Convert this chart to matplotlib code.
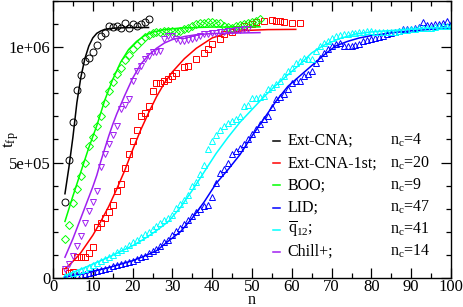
import matplotlib
matplotlib.use("Agg")
import matplotlib.pyplot as plt
from matplotlib import rcParams
from matplotlib.ticker import MultipleLocator

rcParams['font.family'] = 'Liberation Serif'
rcParams['mathtext.fontset'] = 'custom'
rcParams['mathtext.rm'] = 'Liberation Serif'
rcParams['mathtext.it'] = 'Liberation Serif:italic'

# --- data (t_fp in units of 1e6) ---
n_cna = list(range(3, 25))
t_cna = [0.33, 0.51, 0.675, 0.814, 0.878, 0.939, 0.955, 0.977, 1.010, 1.047, 1.061,
         1.090, 1.088, 1.092, 1.083, 1.104, 1.083, 1.100, 1.093, 1.100, 1.110, 1.120]
fit_n_cna = [3, 4, 5, 6, 7, 8, 9, 10, 11, 12, 13, 14, 16, 18, 20, 24]
fit_t_cna = [0.365, 0.48, 0.61, 0.76, 0.87, 0.95, 1.005, 1.04, 1.06, 1.07, 1.077, 1.08,
             1.083, 1.084, 1.085, 1.085]

n_1st = [3, 4, 5, 6, 7, 8, 9, 10, 11, 12, 13, 14, 15, 16, 17, 18, 19, 20, 21, 22, 23, 24,
         25, 26, 27, 28, 29, 30, 31, 33, 34, 36, 38, 39, 40, 42, 43, 45, 46, 48, 50, 51,
         53, 55, 56, 57, 58, 60, 62]
t_1st = [0.03, 0.022, 0.025, 0.09, 0.09, 0.09, 0.107, 0.135, 0.22, 0.24, 0.26, 0.285,
         0.317, 0.375, 0.405, 0.475, 0.537, 0.593, 0.64, 0.70, 0.716, 0.745, 0.81, 0.843,
         0.846, 0.853, 0.86, 0.875, 0.89, 0.912, 0.919, 0.948, 0.975, 0.991, 1.013, 1.035,
         1.057, 1.067, 1.078, 1.093, 1.10, 1.107, 1.115, 1.119, 1.115, 1.112, 1.107, 1.104,
         1.105]
fit_n_1st = [3, 4, 5, 6, 7, 8, 9, 10, 12, 14, 16, 18, 20, 22, 24, 26, 28, 30, 33, 36, 40,
             44, 48, 54, 61]
fit_t_1st = [0.04, 0.055, 0.072, 0.09, 0.11, 0.135, 0.16, 0.185, 0.245, 0.31, 0.385,
             0.465, 0.555, 0.64, 0.715, 0.785, 0.845, 0.893, 0.95, 0.995, 1.04, 1.062,
             1.072, 1.076, 1.077]

n_boo = list(range(3, 53))
t_boo = [0.168, 0.23, 0.325, 0.385, 0.44, 0.50, 0.57, 0.61, 0.658, 0.70, 0.76, 0.81,
         0.847, 0.883, 0.91, 0.945, 0.965, 0.991, 1.009, 1.027, 1.042, 1.052, 1.061,
         1.065, 1.067, 1.068, 1.07, 1.068, 1.065, 1.07, 1.078, 1.085, 1.093, 1.10, 1.105,
         1.105, 1.107, 1.107, 1.105, 1.105, 1.09, 1.088, 1.085, 1.09, 1.095, 1.10, 1.105,
         1.11, 1.115, 1.12]
fit_n_boo = [3, 5, 7, 9, 11, 13, 15, 17, 19, 21, 23, 25, 28, 32, 40, 52]
fit_t_boo = [0.245, 0.355, 0.46, 0.565, 0.66, 0.77, 0.86, 0.935, 0.99, 1.025, 1.05,
             1.065, 1.076, 1.083, 1.087, 1.088]

n_lid = list(range(3, 101))
t_lid = [0.005, 0.008, 0.01, 0.012, 0.015, 0.018, 0.022, 0.027, 0.03, 0.035, 0.04,
         0.045, 0.05, 0.055, 0.06, 0.066, 0.07, 0.075, 0.082, 0.09, 0.097, 0.107, 0.115,
         0.125, 0.14, 0.155, 0.165, 0.185, 0.205, 0.215, 0.235, 0.25, 0.27, 0.285, 0.30,
         0.31, 0.317, 0.353, 0.412, 0.455, 0.47, 0.50, 0.535, 0.55, 0.565, 0.58, 0.60,
         0.622, 0.645, 0.665, 0.69, 0.701, 0.74, 0.774, 0.785, 0.796, 0.817, 0.846, 0.853,
         0.853, 0.875, 0.885, 0.897, 0.93, 0.955, 0.975, 0.99, 1.006, 1.015, 1.02, 1.006,
         1.006, 1.006, 1.01, 1.015, 1.027, 1.03, 1.035, 1.04, 1.042, 1.05, 1.055, 1.06,
         1.065, 1.07, 1.078, 1.078, 1.08, 1.083, 1.086, 1.107, 1.095, 1.095, 1.10, 1.10,
         1.104, 1.114, 1.10]
fit_n_lid = [3, 5, 8, 11, 14, 17, 20, 23, 26, 29, 32, 35, 38, 41, 44, 47, 50, 53, 56,
             59, 62, 65, 68, 71, 74, 77, 80, 85, 90, 95, 100]
fit_t_lid = [0.004, 0.01, 0.02, 0.033, 0.045, 0.06, 0.075, 0.095, 0.118, 0.16, 0.20,
             0.26, 0.33, 0.41, 0.47, 0.535, 0.615, 0.69, 0.765, 0.83, 0.875, 0.92, 0.965,
             1.005, 1.025, 1.04, 1.05, 1.062, 1.071, 1.077, 1.082]

n_q12 = list(range(3, 101))
t_q12 = [0.01, 0.015, 0.02, 0.027, 0.034, 0.041, 0.049, 0.057, 0.065, 0.074, 0.083,
         0.092, 0.101, 0.111, 0.121, 0.132, 0.143, 0.154, 0.165, 0.177, 0.189, 0.20,
         0.214, 0.227, 0.24, 0.25, 0.262, 0.274, 0.303, 0.32, 0.339, 0.36, 0.40, 0.415,
         0.45, 0.491, 0.557, 0.593, 0.62, 0.643, 0.658, 0.67, 0.68, 0.687, 0.701, 0.745,
         0.75, 0.781, 0.781, 0.785, 0.79, 0.817, 0.828, 0.839, 0.853, 0.875, 0.897, 0.91,
         0.933, 0.94, 0.955, 0.95, 0.948, 0.984, 1.006, 1.02, 1.027, 1.04, 1.05, 1.052,
         1.055, 1.058, 1.06, 1.062, 1.065, 1.067, 1.068, 1.068, 1.067, 1.065, 1.064, 1.064,
         1.064, 1.067, 1.07, 1.073, 1.075, 1.078, 1.08, 1.082, 1.082, 1.085, 1.085, 1.088,
         1.09, 1.093, 1.093, 1.09]
fit_n_q12 = [3, 5, 8, 11, 14, 17, 20, 23, 26, 29, 32, 35, 38, 41, 44, 47, 50, 53, 56,
             59, 62, 65, 68, 72, 76, 80, 85, 90, 95, 100]
fit_t_q12 = [0.01, 0.025, 0.045, 0.068, 0.09, 0.115, 0.14, 0.17, 0.205, 0.245, 0.305,
             0.38, 0.46, 0.54, 0.61, 0.675, 0.73, 0.785, 0.835, 0.88, 0.925, 0.975, 1.008,
             1.037, 1.057, 1.066, 1.072, 1.078, 1.083, 1.086]

n_chill = list(range(3, 50))
t_chill = [0.04, 0.06, 0.095, 0.14, 0.18, 0.24, 0.29, 0.33, 0.375, 0.48, 0.535, 0.58,
           0.62, 0.66, 0.73, 0.75, 0.775, 0.854, 0.897, 0.919, 0.948, 0.962, 0.977, 0.98,
           0.985, 1.035, 1.05, 1.05, 1.035, 1.028, 1.028, 1.03, 1.035, 1.04, 1.05, 1.057,
           1.057, 1.06, 1.062, 1.065, 1.067, 1.07, 1.072, 1.075, 1.076, 1.078, 1.08]
fit_n_chill = [3, 4, 5, 6, 7, 8, 9, 10, 11, 12, 13, 14, 15, 16, 18, 20, 22, 24, 26, 28,
               30, 33, 36, 40, 52]
fit_t_chill = [0.09, 0.13, 0.17, 0.215, 0.26, 0.305, 0.35, 0.395, 0.445, 0.505, 0.56,
               0.615, 0.665, 0.71, 0.79, 0.865, 0.925, 0.965, 0.995, 1.018, 1.033, 1.046,
               1.054, 1.059, 1.063]

names = ['Ext-CNA;', 'Ext-CNA-1st;', 'BOO;', 'LID;', r'$\overline{\mathrm{q}}_{12}$;', 'Chill+;']
nc_values = [4, 20, 9, 47, 41, 14]
colors = ['black', 'red', '#00ff00', '#0000ff', '#00ffff', '#a020f0']
markers = ['o', 's', 'D', '^', '^', 'v']

series = [(n_cna, t_cna, fit_n_cna, fit_t_cna),
          (n_1st, t_1st, fit_n_1st, fit_t_1st),
          (n_boo, t_boo, fit_n_boo, fit_t_boo),
          (n_lid, t_lid, fit_n_lid, fit_t_lid),
          (n_q12, t_q12, fit_n_q12, fit_t_q12),
          (n_chill, t_chill, fit_n_chill, fit_t_chill)]

fig = plt.figure(figsize=(4.63, 3.07), dpi=100)
ax = fig.add_axes([0.1145, 0.0945, 0.8596, 0.9023])

for (xs, ys, fx, fy), c, m in zip(series, colors, markers):
    ms = 4.2 if m == 'D' else 5
    ax.plot(xs, [v * 1e6 for v in ys], linestyle='none', marker=m, ms=ms, mfc='none',
            mec=c, mew=0.7)
    ax.plot(fx, [v * 1e6 for v in fy], color=c, lw=1.1)

ax.set_xlim(0, 100)
ax.set_ylim(0, 1.2e6)
ax.xaxis.set_major_locator(MultipleLocator(10))
ax.xaxis.set_minor_locator(MultipleLocator(5))
ax.yaxis.set_minor_locator(MultipleLocator(1e5))
ax.set_yticks([0, 5e5, 1e6])
ax.set_yticklabels(['0', '5e+05', '1e+06'])
ax.tick_params(which='both', direction='in', top=True, right=True, labelsize=12)
ax.tick_params(which='major', length=7, width=0.9)
ax.tick_params(which='minor', length=3.5, width=0.9)
ax.tick_params(axis='x', pad=0.5)
ax.tick_params(axis='y', pad=2)
for s in ax.spines.values():
    s.set_linewidth(1.0)

# axis labels sit in the gaps, the way the original places them
ax.text(0.5, -0.094, r'$\mathrm{n}$', fontsize=11.5, ha='center', va='baseline',
        transform=ax.transAxes)
ax.text(-0.080, 0.5, r'$\mathrm{t}_\mathrm{fp}$', fontsize=12.5, rotation=90,
        ha='right', va='center', transform=ax.transAxes)

# legend drawn by hand: short line, name, then n_c column
for i, (name, nc, c) in enumerate(zip(names, nc_values, colors)):
    yl = (278 - (141 + 22.2 * i)) / 277
    yt = (278 - (145 + 22.2 * i)) / 277
    ax.plot([0.553, 0.570], [yl, yl], color=c, lw=1.1, transform=ax.transAxes)
    ax.text(0.590, yt, name, fontsize=11.5, va='baseline', transform=ax.transAxes)
    ax.text(0.847, yt, r'n$_\mathrm{c}$=%d' % nc, fontsize=11.5, va='baseline',
            transform=ax.transAxes)

fig.savefig('out.png', dpi=100)
